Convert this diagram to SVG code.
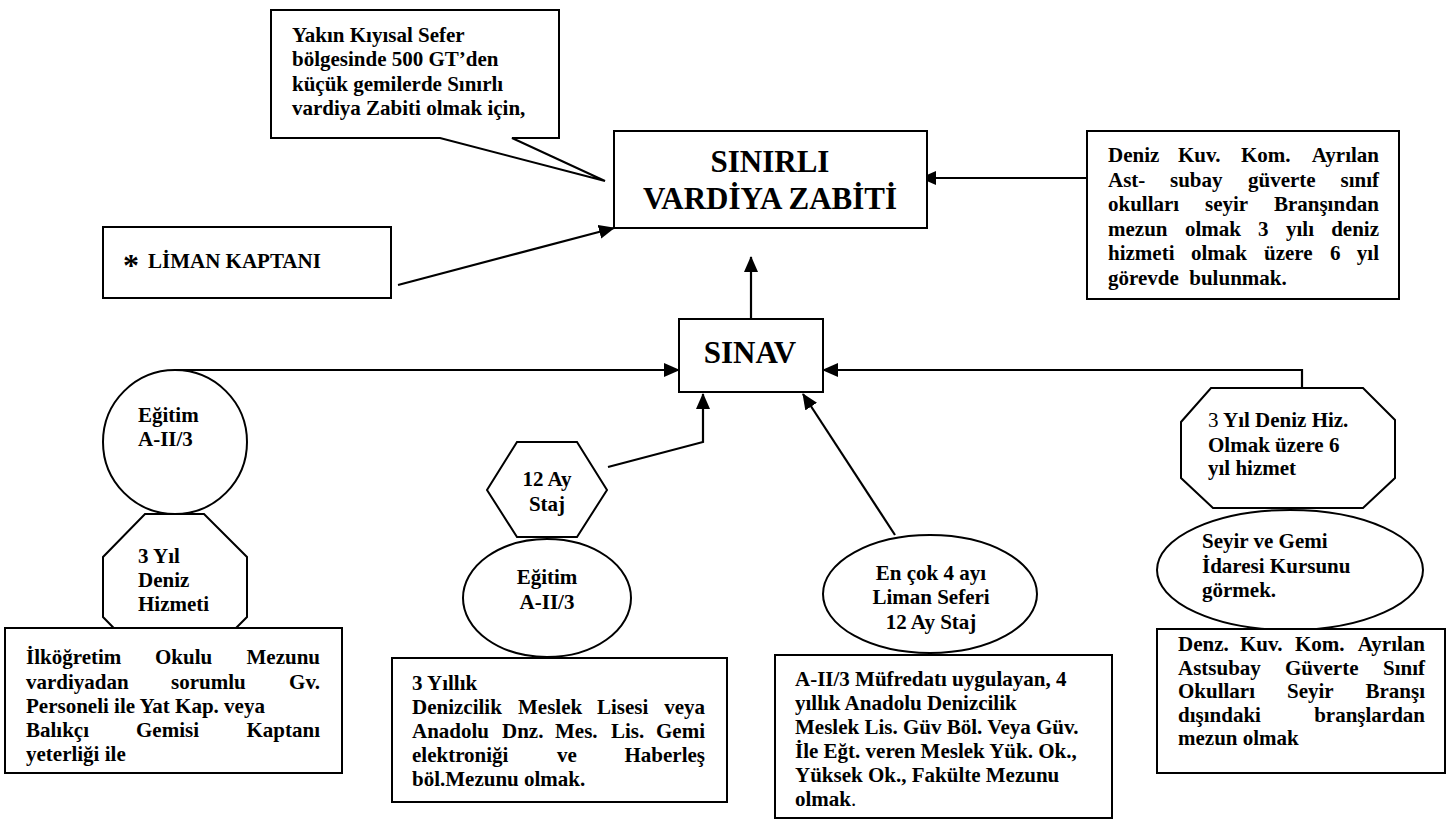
<svg xmlns="http://www.w3.org/2000/svg" width="1456" height="827" viewBox="0 0 1456 827">
<style>
.s{fill:#fff;stroke:#000;stroke-width:2}
.t{font-family:"Liberation Serif","Times New Roman",serif;font-weight:bold;font-size:21px;fill:#000}
.big{font-size:31px}
.c{text-anchor:middle}
.e{text-anchor:end}
.n{font-weight:normal}
.ln{fill:none;stroke:#000;stroke-width:2.2}
</style>
<defs>
<marker id="ah" markerUnits="userSpaceOnUse" markerWidth="16" markerHeight="14" refX="15" refY="7" orient="auto">
<path d="M0,0 L16,7 L0,14 z" fill="#000"/>
</marker>
</defs>
<rect width="1456" height="827" fill="#fff"/>

<g id="connectors">
<line class="ln" x1="398" y1="285" x2="614" y2="228" marker-end="url(#ah)"/>
<line class="ln" x1="1087" y1="178" x2="921" y2="178" marker-end="url(#ah)"/>
<line class="ln" x1="751" y1="327" x2="751" y2="257" marker-end="url(#ah)"/>
<path class="ln" d="M175,370 H679" marker-end="url(#ah)"/>
<path class="ln" d="M608,467 L703,442 V394" marker-end="url(#ah)"/>
<path class="ln" d="M895,535 L803,394" marker-end="url(#ah)"/>
<path class="ln" d="M1302,388 V370 H823" marker-end="url(#ah)"/>
</g>

<g id="callout">
<path class="s" d="M271,10 H559 V138 H512 L605,181 L440,138 H271 Z"/>
<text class="t" x="292" y="42">Yakın Kıyısal Sefer</text>
<text class="t" x="292" y="66">bölgesinde 500 GT’den</text>
<text class="t" x="292" y="91">küçük gemilerde Sınırlı</text>
<text class="t" x="292" y="115">vardiya Zabiti olmak için,</text>
</g>

<g id="sinirli">
<rect class="s" x="614" y="131" width="313" height="97"/>
<text class="t big c" x="770" y="172">SINIRLI</text>
<text class="t big c" x="770" y="209">VARDİYA ZABİTİ</text>
</g>

<g id="liman">
<rect class="s" x="103" y="227" width="288" height="71"/>
<text class="t" x="123" y="276" style="font-size:32px">*</text>
<text class="t" x="148" y="268">LİMAN KAPTANI</text>
</g>

<g id="deniz-kuv">
<rect class="s" x="1087" y="131" width="312" height="168"/>
<text class="t" y="162"><tspan x="1108">Deniz</tspan><tspan x="1178">Kuv.</tspan><tspan x="1241">Kom.</tspan><tspan x="1379" class="e">Ayrılan</tspan></text>
<text class="t" y="187"><tspan x="1108">Ast-</tspan><tspan x="1170">subay</tspan><tspan x="1248">güverte</tspan><tspan x="1379" class="e">sınıf</tspan></text>
<text class="t" y="211"><tspan x="1108">okulları</tspan><tspan x="1205">seyir</tspan><tspan x="1379" class="e">Branşından</tspan></text>
<text class="t" y="236"><tspan x="1108">mezun</tspan><tspan x="1185">olmak</tspan><tspan x="1258">3</tspan><tspan x="1286">yılı</tspan><tspan x="1379" class="e">deniz</tspan></text>
<text class="t" y="260"><tspan x="1108">hizmeti</tspan><tspan x="1191">olmak</tspan><tspan x="1264">üzere</tspan><tspan x="1330">6</tspan><tspan x="1379" class="e">yıl</tspan></text>
<text class="t" x="1108" y="285" xml:space="preserve">görevde  bulunmak.</text>
</g>

<g id="sinav">
<rect class="s" x="679" y="319" width="144" height="73"/>
<text class="t big c" x="750" y="363">SINAV</text>
</g>

<g id="egitim1">
<circle class="s" cx="175" cy="442" r="72"/>
<text class="t" x="138" y="422">Eğitim</text>
<text class="t" x="138" y="446">A-II/3</text>
</g>

<g id="deniz-hizmeti">
<polygon class="s" points="145,514 204,514 247,557 247,617 204,660 145,660 103,617 103,557"/>
<text class="t" x="138" y="563">3 Yıl</text>
<text class="t" x="138" y="587">Deniz</text>
<text class="t" x="138" y="611">Hizmeti</text>
</g>

<g id="ilkogretim">
<rect class="s" x="5" y="628" width="337" height="145"/>
<text class="t" y="664"><tspan x="26">İlköğretim</tspan><tspan x="155">Okulu</tspan><tspan x="320" class="e">Mezunu</tspan></text>
<text class="t" y="689"><tspan x="26">vardiyadan</tspan><tspan x="171">sorumlu</tspan><tspan x="320" class="e">Gv.</tspan></text>
<text class="t" x="26" y="713">Personeli ile Yat Kap. veya</text>
<text class="t" y="737"><tspan x="26">Balıkçı</tspan><tspan x="136">Gemisi</tspan><tspan x="320" class="e">Kaptanı</tspan></text>
<text class="t" x="26" y="761">yeterliği ile</text>
</g>

<g id="egitim2">
<ellipse class="s" cx="547" cy="598" rx="84" ry="59"/>
<text class="t c" x="547" y="584">Eğitim</text>
<text class="t c" x="547" y="609">A-II/3</text>
</g>

<g id="staj">
<polygon class="s" points="517,442 577,442 607,490 577,537 517,537 487,490"/>
<text class="t c" x="547" y="486">12 Ay</text>
<text class="t c" x="547" y="511">Staj</text>
</g>

<g id="meslek-lisesi">
<rect class="s" x="392" y="658" width="335" height="144"/>
<text class="t" x="412" y="690">3 Yıllık</text>
<text class="t" y="714"><tspan x="412">Denizcilik</tspan><tspan x="518">Meslek</tspan><tspan x="597">Lisesi</tspan><tspan x="705" class="e">veya</tspan></text>
<text class="t" y="738"><tspan x="412">Anadolu</tspan><tspan x="502">Dnz.</tspan><tspan x="555">Mes.</tspan><tspan x="611">Lis.</tspan><tspan x="705" class="e">Gemi</tspan></text>
<text class="t" y="762"><tspan x="412">elektroniği</tspan><tspan x="557">ve</tspan><tspan x="705" class="e">Haberleş</tspan></text>
<text class="t" x="412" y="786">böl.Mezunu olmak.</text>
</g>

<g id="liman-seferi">
<ellipse class="s" cx="930" cy="594" rx="107" ry="59"/>
<text class="t c" x="931" y="580">En çok 4 ayı</text>
<text class="t c" x="931" y="604">Liman Seferi</text>
<text class="t c" x="931" y="629">12 Ay Staj</text>
</g>

<g id="anadolu">
<rect class="s" x="775" y="655" width="337" height="163"/>
<text class="t" x="795" y="686">A-II/3 Müfredatı uygulayan, 4</text>
<text class="t" x="795" y="710">yıllık Anadolu Denizcilik</text>
<text class="t" x="795" y="734">Meslek Lis. Güv Böl. Veya Güv.</text>
<text class="t" x="795" y="758">İle Eğt. veren Meslek Yük. Ok.,</text>
<text class="t" x="795" y="782">Yüksek Ok., Fakülte Mezunu</text>
<text class="t" x="795" y="806">olmak<tspan class="n">.</tspan></text>
</g>

<g id="alti-yil">
<polygon class="s" points="1211,388 1363,388 1395,420 1395,478 1363,508 1213,508 1181,478 1181,422"/>
<text class="t" x="1208" y="427"><tspan class="n">3</tspan> Yıl Deniz Hiz.</text>
<text class="t" x="1208" y="452">Olmak üzere 6</text>
<text class="t" x="1208" y="475">yıl hizmet</text>
</g>

<g id="seyir-kursu">
<ellipse class="s" cx="1290" cy="570" rx="133" ry="60"/>
<text class="t" x="1202" y="548">Seyir ve Gemi</text>
<text class="t" x="1202" y="573">İdaresi Kursunu</text>
<text class="t" x="1202" y="597">görmek.</text>
</g>

<g id="astsubay">
<rect class="s" x="1157" y="629" width="288" height="144"/>
<text class="t" y="651"><tspan x="1178">Denz.</tspan><tspan x="1240">Kuv.</tspan><tspan x="1295">Kom.</tspan><tspan x="1425" class="e">Ayrılan</tspan></text>
<text class="t" y="675"><tspan x="1178">Astsubay</tspan><tspan x="1285">Güverte</tspan><tspan x="1425" class="e">Sınıf</tspan></text>
<text class="t" y="698"><tspan x="1178">Okulları</tspan><tspan x="1287">Seyir</tspan><tspan x="1425" class="e">Branşı</tspan></text>
<text class="t" y="722"><tspan x="1178">dışındaki</tspan><tspan x="1425" class="e">branşlardan</tspan></text>
<text class="t" x="1178" y="745">mezun olmak</text>
</g>
</svg>
